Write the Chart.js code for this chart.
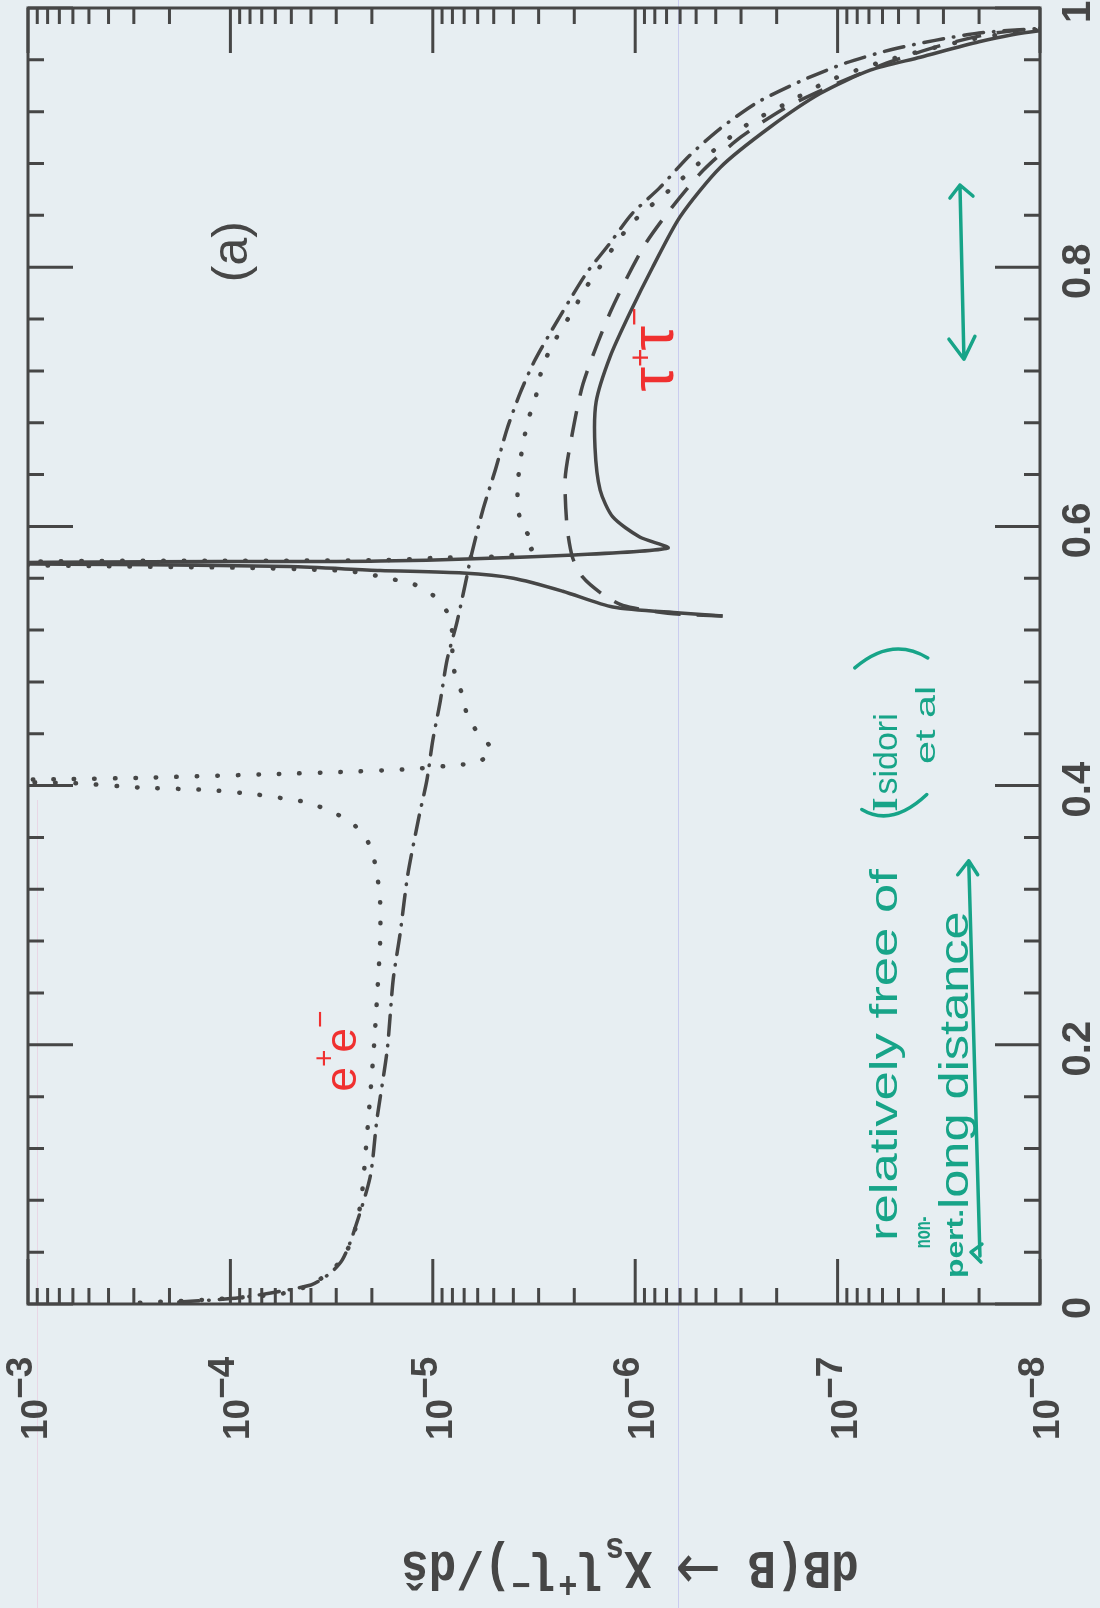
<!DOCTYPE html>
<html lang="en">
<head>
  <meta charset="UTF-8">
  <title>dB(B → Xs l+l-)/ds — panel (a)</title>
  <script src="https://cdn.jsdelivr.net/npm/chart.js"></script>
  <style>
    html, body {
      margin: 0;
      padding: 0;
      background: #e7eef2;
    }
    canvas {
      display: block;
    }
  </style>
</head>
<body>
  <canvas id="spectrum" width="1100" height="1608"></canvas>

  <script>
    // s = q^2 / m_b^2 runs up the page, dB/ds runs along a reversed log axis (scan is turned on its side)

    // e+e- with J/psi and psi' resonances (dotted)
    const eeResS = [0.001, 0.004, 0.009, 0.018, 0.032, 0.05, 0.08, 0.12, 0.16, 0.2, 0.24, 0.28, 0.31, 0.33,
      0.35, 0.36, 0.3727, 0.38, 0.3866, 0.3897, 0.3935, 0.3966, 0.3985, 0.402, 0.4035, 0.405, 0.406, 0.409,
      0.4105, 0.4128, 0.416, 0.418, 0.4275, 0.4406, 0.456, 0.4715, 0.487, 0.5023, 0.5177, 0.534, 0.547,
      0.5556, 0.5594, 0.5633, 0.5656, 0.5664, 0.568, 0.5694, 0.5715, 0.5733, 0.5735, 0.574, 0.5756, 0.5764,
      0.577, 0.5795, 0.5856, 0.5995, 0.615, 0.6335, 0.65, 0.667, 0.684, 0.70, 0.724, 0.745, 0.7654, 0.7855,
      0.806, 0.834, 0.861, 0.886, 0.91, 0.927, 0.944, 0.9576, 0.968, 0.977, 0.983, 0.99];
    const eeResV = [2.8e-4, 1.1e-4, 5.1e-5, 3.7e-5, 2.9e-5, 2.5e-5, 2.26e-5, 2.14e-5, 2.04e-5, 1.95e-5, 1.88e-5,
      1.82e-5, 1.82e-5, 1.88e-5, 2.0e-5, 2.16e-5, 2.57e-5, 3.2e-5, 4.05e-5, 5.25e-5, 7.75e-5, 1.3e-4, 2.8e-4,
      6.3e-4, 3e-3, 6.3e-4, 2.8e-4, 5.7e-5, 2.8e-5, 1.27e-5, 7.6e-6, 6.0e-6, 5.1e-6, 6.0e-6, 6.8e-6, 7.2e-6,
      7.8e-6, 8.0e-6, 8.0e-6, 8.5e-6, 1.0e-5, 1.25e-5, 1.6e-5, 2.1e-5, 2.65e-5, 3.5e-5, 7.9e-5, 5e-4, 3e-3,
      5e-4, 1e-4, 1.68e-5, 1.0e-5, 5.85e-6, 4.55e-6, 3.6e-6, 3.1e-6, 3.6e-6, 3.8e-6, 3.8e-6, 3.7e-6, 3.55e-6,
      3.35e-6, 3.1e-6, 2.86e-6, 2.46e-6, 2.05e-6, 1.73e-6, 1.41e-6, 1.04e-6, 6.6e-7, 4.4e-7, 2.8e-7, 1.76e-7,
      1.1e-7, 6.3e-8, 3.6e-8, 2.0e-8, 1.05e-8, 2.5e-9];

    // e+e- without resonances (dash-dot)
    const eeNonS = [0.0015, 0.005, 0.0147, 0.024, 0.034, 0.052, 0.098, 0.142, 0.196, 0.25, 0.286, 0.331, 0.376,
      0.404, 0.435, 0.4645, 0.497, 0.526, 0.556, 0.5756, 0.613, 0.644, 0.675, 0.703, 0.727, 0.7515, 0.775,
      0.796, 0.8187, 0.841, 0.861, 0.886, 0.907, 0.927, 0.944, 0.9576, 0.968, 0.975, 0.9807, 0.984, 0.99];
    const eeNonV = [1.8e-4, 8.9e-5, 4.0e-5, 3.2e-5, 2.8e-5, 2.5e-5, 2.04e-5, 1.89e-5, 1.68e-5, 1.57e-5, 1.45e-5,
      1.33e-5, 1.17e-5, 1.07e-5, 1.0e-5, 9.2e-6, 8.5e-6, 7.6e-6, 6.9e-6, 6.5e-6, 5.65e-6, 4.9e-6, 4.3e-6,
      3.7e-6, 3.16e-6, 2.58e-6, 2.1e-6, 1.73e-6, 1.33e-6, 1.04e-6, 7.6e-7, 5.4e-7, 3.8e-7, 2.5e-7, 1.5e-7,
      9.1e-8, 5.4e-8, 3.3e-8, 2.0e-8, 1.05e-8, 2.5e-9];

    // tau+tau- with psi' resonance (solid)
    const tauResS = [0.5309, 0.5332, 0.5378, 0.550, 0.560, 0.564, 0.566, 0.569, 0.5705, 0.5715, 0.5728, 0.5733,
      0.578, 0.5833, 0.5918, 0.6073, 0.628, 0.661, 0.696, 0.731, 0.765, 0.800, 0.839, 0.877, 0.908, 0.934,
      0.952, 0.962, 0.974, 0.982, 0.99];
    const tauResV = [3.7e-7, 6.0e-7, 1.29e-6, 2.28e-6, 4.0e-6, 7.1e-6, 1.82e-5, 5.1e-5, 2.5e-4, 3e-3, 2.5e-4,
      1.82e-5, 2.0e-6, 6.9e-7, 9.5e-7, 1.29e-6, 1.49e-6, 1.58e-6, 1.56e-6, 1.33e-6, 1.06e-6, 8.2e-7, 6.0e-7,
      3.8e-7, 2.16e-7, 1.22e-7, 6.9e-8, 3.9e-8, 2.0e-8, 1.05e-8, 2.5e-9];

    // tau+tau- without resonances (dashed)
    const tauNonS = [0.5309, 0.533, 0.539, 0.548, 0.561, 0.576, 0.5995, 0.636, 0.662, 0.71, 0.765, 0.8156,
      0.846, 0.875, 0.9005, 0.9236, 0.942, 0.9576, 0.971, 0.98, 0.984, 0.99];
    const tauNonV = [3.7e-7, 6.9e-7, 1.15e-6, 1.46e-6, 1.82e-6, 2.04e-6, 2.17e-6, 2.22e-6, 2.1e-6, 1.81e-6,
      1.33e-6, 9.1e-7, 6.6e-7, 4.6e-7, 3.0e-7, 1.78e-7, 1.0e-7, 5.7e-8, 3.1e-8, 1.77e-8, 1.05e-8, 2.5e-9];

    // axes
    const sTicks = [0, 0.2, 0.4, 0.6, 0.8, 1];
    const sTickLabels = ['0', '0.2', '0.4', '0.6', '0.8', '1'];
    const decades = [-3, -4, -5, -6, -7, -8];

    // annotation anchors, in data units (value, s)
    const panelTag = { v: 9.7e-5, s: 0.812 };
    const eeTag = { v: 2.4e-5, s: 0.164 };
    const tauTag = { v: 6.5e-7, s: 0.704 };

    const INK = '#464646';
    const RED = '#f03030';
    const GREEN = '#17a488';
    const SANS = '"Liberation Sans", Arial, sans-serif';
    const SERIF = '"Liberation Serif", "DejaVu Serif", serif';
    const MONO = '"Liberation Mono", "DejaVu Sans Mono", monospace';

    const pts = (s, v) => s.map((y, i) => ({ x: v[i], y: y }));

    function label(ctx, str, x, y, ang, font, color, align, baseline, fitLen) {
      ctx.save();
      ctx.translate(x, y);
      ctx.rotate(ang);
      ctx.font = font;
      ctx.fillStyle = color;
      ctx.textAlign = align || 'left';
      ctx.textBaseline = baseline || 'alphabetic';
      if (fitLen) {
        const w = ctx.measureText(str).width;
        ctx.scale(fitLen / w, 1);
      }
      ctx.fillText(str, 0, 0);
      ctx.restore();
    }

    // runs of text with raised / lowered pieces: [text, font, rise, extra]
    function runs(ctx, parts, x, y, ang, color, align, stretch) {
      ctx.save();
      ctx.translate(x, y);
      ctx.rotate(ang);
      if (stretch) ctx.scale(1, stretch);
      ctx.fillStyle = color;
      ctx.textAlign = 'left';
      ctx.textBaseline = 'alphabetic';
      let total = 0;
      const widths = parts.map(p => {
        ctx.font = p[1];
        const w = ctx.measureText(p[0]).width + (p[3] || 0);
        total += w;
        return w;
      });
      let cx = align === 'center' ? -total / 2 : 0;
      parts.forEach((p, i) => {
        ctx.font = p[1];
        ctx.fillText(p[0], cx, -(p[2] || 0));
        cx += widths[i];
      });
      ctx.restore();
    }

    function arrowHead(ctx, tx, ty, a1x, a1y, a2x, a2y) {
      ctx.moveTo(a1x, a1y);
      ctx.lineTo(tx, ty);
      ctx.lineTo(a2x, a2y);
    }

    const decor = {
      id: 'decor',
      beforeDraw(chart) {
        const ctx = chart.ctx;
        ctx.save();
        ctx.fillStyle = '#e7eef2';
        ctx.fillRect(0, 0, chart.width, chart.height);
        // faint scanner streaks
        ctx.lineWidth = 1;
        ctx.strokeStyle = 'rgba(150, 140, 235, 0.35)';
        ctx.beginPath();
        ctx.moveTo(678.5, 0);
        ctx.lineTo(678.5, chart.height);
        ctx.stroke();
        ctx.strokeStyle = 'rgba(235, 170, 205, 0.35)';
        ctx.beginPath();
        ctx.moveTo(37.5, 800);
        ctx.lineTo(37.5, chart.height);
        ctx.stroke();
        ctx.restore();
      },
      afterDatasetsDraw(chart) {
        const { ctx, chartArea: a, scales: { x: X, y: Y } } = chart;
        const L = a.left, R = a.right, T = a.top, B = a.bottom;
        const up = -Math.PI / 2;

        ctx.save();
        ctx.strokeStyle = INK;
        ctx.lineWidth = 3;
        ctx.strokeRect(L, T, R - L, B - T);

        // ticks pointing inwards on all four sides
        ctx.beginPath();
        for (let i = 0; i <= 25; i++) {
          const p = Y.getPixelForValue(i * 0.04);
          const len = i % 5 === 0 ? 45 : 16;
          ctx.moveTo(L, p); ctx.lineTo(L + len, p);
          ctx.moveTo(R, p); ctx.lineTo(R - len, p);
        }
        decades.forEach(d => {
          for (let m = 1; m <= 9; m++) {
            const v = m * Math.pow(10, d);
            if (v > 1.001e-3) continue;
            const p = X.getPixelForValue(v);
            const len = m === 1 ? 45 : 16;
            ctx.moveTo(p, T); ctx.lineTo(p, T + len);
            ctx.moveTo(p, B); ctx.lineTo(p, B - len);
          }
        });
        ctx.stroke();

        // s tick labels, right side
        sTicks.forEach((s, i) => {
          label(ctx, sTickLabels[i], R + 50, Y.getPixelForValue(s) + 4, up,
            'bold 40px ' + SANS, INK, 'center');
        });

        // decade labels 10^-n, bottom
        decades.forEach(d => {
          const p = X.getPixelForValue(Math.pow(10, d));
          runs(ctx, [['10', 'bold 37px ' + SANS], ['\u2212' + Math.abs(d), 'bold 37px ' + SANS, 15]],
            p + 19, B + 136, up, INK, 'left');
        });

        // axis title, upside down
        const TF = 'bold 46px ' + MONO, TS = 'bold 32px ' + MONO;
        runs(ctx, [
          ['dB(B ', TF], ['\u2192', '54px "DejaVu Sans", sans-serif', -3, -4], [' X', TF], ['s', TS, -12],
          ['l', TF], ['+', TS, 18], ['l', TF], ['\u2212', TS, 18], [')/d\u015D', TF]
        ], 630, 1552, Math.PI, INK, 'center', 1.15);

        // panel tag
        label(ctx, '(a)', X.getPixelForValue(panelTag.v), Y.getPixelForValue(panelTag.s), up,
          '50px ' + SANS, INK, 'center', 'middle');

        // red handwritten curve names
        runs(ctx, [['e', '44px ' + SANS], ['+', '30px ' + SANS, 22, -3], ['e', '44px ' + SANS],
          ['\u2212', '30px ' + SANS, 26]],
          X.getPixelForValue(eeTag.v), Y.getPixelForValue(eeTag.s), up, RED, 'left');
        runs(ctx, [['\u03C4', '62px ' + SANS], ['+', '32px ' + SANS, 22, -2], ['\u03C4', '62px ' + SANS],
          ['\u2212', '32px ' + SANS, 28]],
          X.getPixelForValue(tauTag.v), Y.getPixelForValue(tauTag.s), up, RED, 'left');

        // green handwritten note, lower right
        const gx = v => X.getPixelForValue(v), gy = s => Y.getPixelForValue(s);
        label(ctx, 'relatively free of', gx(5.1e-8), gy(0.0486), up, '38px ' + SANS, GREEN, 'left',
          'alphabetic', gy(0.0486) - gy(0.3356));
        label(ctx, 'non-', gx(3.5e-8), gy(0.043), up, 'bold 22px ' + SANS, GREEN, 'left', 'alphabetic',
          gy(0.043) - gy(0.0675));
        label(ctx, 'pert.', gx(2.4e-8), gy(0.02), up, 'bold 24px ' + SANS, GREEN, 'left', 'alphabetic',
          gy(0.02) - gy(0.0733));
        label(ctx, 'long distance', gx(2.27e-8), gy(0.0733), up, '40px ' + SANS, GREEN, 'left',
          'alphabetic', gy(0.0733) - gy(0.303));
        runs(ctx, [['I', 'bold 36px ' + SERIF, 0, 3], ['sidori', '34px ' + SANS]],
          gx(5.1e-8), gy(0.38), up, GREEN, 'left');
        label(ctx, 'et al', gx(3.3e-8), gy(0.4167), up, '28px ' + SANS, GREEN, 'left', 'alphabetic',
          gy(0.4167) - gy(0.477));

        ctx.strokeStyle = GREEN;
        ctx.lineWidth = 3.5;
        ctx.lineCap = 'round';
        ctx.lineJoin = 'round';
        ctx.beginPath();
        // big bracket round (Isidori / et al)
        const bx = gx(5.1e-8), by = gy(0.38);
        ctx.moveTo(bx - 35, by - 2);
        ctx.quadraticCurveTo(bx - 5, by + 16, bx + 30, by - 17);
        const ty = gy(0.4985);
        ctx.moveTo(bx - 42, ty + 10);
        ctx.quadraticCurveTo(bx - 5, ty - 22, bx + 31, ty);
        // underline arrow under "long distance"
        const u0 = gy(0.037), u1 = gy(0.342), ux0 = gx(1.98e-8), ux1 = gx(2.25e-8);
        ctx.moveTo(ux0, u0);
        ctx.lineTo(ux1, u1);
        arrowHead(ctx, ux1, u1, ux1 - 11, u1 + 14, ux1 + 9, u1 + 14);
        arrowHead(ctx, ux0 - 9, u0 - 4, ux0 + 2, u0 - 12, ux0 + 1, u0 + 6);
        // double arrow marking the high-s window
        const ax = gx(2.43e-8), a0 = gy(0.729), a1 = gy(0.8634);
        ctx.moveTo(ax + 2, a0);
        ctx.lineTo(ax - 2, a1);
        arrowHead(ctx, ax - 2, a1, ax - 12, a1 + 13, ax + 11, a1 + 11);
        arrowHead(ctx, ax + 2, a0, ax - 13, a0 - 20, ax + 13, a0 - 23);
        ctx.stroke();

        ctx.restore();
      }
    };

    const lineBase = {
      showLine: true,
      pointRadius: 0,
      borderColor: INK,
      tension: 0.25,
      fill: false
    };

    new Chart(document.getElementById('spectrum'), {
      type: 'scatter',
      data: {
        datasets: [
          Object.assign({}, lineBase, {
            label: 'e+e- with resonances',
            data: pts(eeResS, eeResV),
            borderWidth: 4.5,
            borderDash: [0.5, 20],
            borderCapStyle: 'round'
          }),
          Object.assign({}, lineBase, {
            label: 'e+e- non-resonant',
            data: pts(eeNonS, eeNonV),
            borderWidth: 3.5,
            borderDash: [20, 10, 0.5, 10],
            borderCapStyle: 'round'
          }),
          Object.assign({}, lineBase, {
            label: 'tau+tau- with resonances',
            data: pts(tauResS, tauResV),
            borderWidth: 3.5
          }),
          Object.assign({}, lineBase, {
            label: 'tau+tau- non-resonant',
            data: pts(tauNonS, tauNonV),
            borderWidth: 3.5,
            borderDash: [26, 16]
          })
        ]
      },
      options: {
        responsive: false,
        animation: false,
        devicePixelRatio: 1,
        layout: { padding: { left: 28, right: 60, top: 8, bottom: 304 } },
        plugins: {
          legend: { display: false },
          tooltip: { enabled: false }
        },
        scales: {
          x: { type: 'logarithmic', min: 1e-8, max: 1e-3, reverse: true, display: false },
          y: { type: 'linear', min: 0, max: 1, display: false }
        }
      },
      plugins: [decor]
    });
  </script>
</body>
</html>
